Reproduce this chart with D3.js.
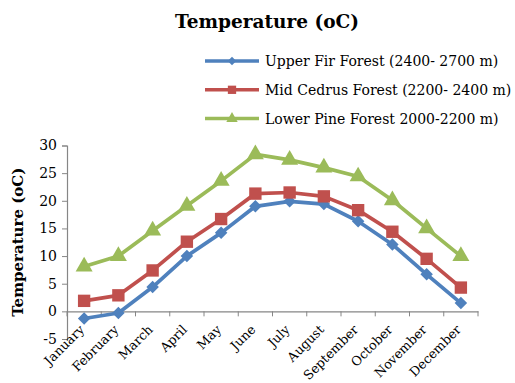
<!DOCTYPE html>
<html>
<head>
<meta charset="utf-8">
<script src="https://cdn.jsdelivr.net/npm/d3@7"></script>
<style>
  html, body { margin: 0; padding: 0; background: #fff; }
  svg { display: block; }
  text { font-family: "DejaVu Serif", "Liberation Serif", serif; }
</style>
</head>
<body>
<svg id="chart" width="515" height="383"></svg>
<script>
// Monthly mean temperatures for three forest belts
const months = ["January", "February", "March", "April", "May", "June",
                "July", "August", "September", "October", "November", "December"];
const upperFir  = [-1.3, -0.3, 4.4, 10.0, 14.2, 19.0, 19.9, 19.4, 16.3, 12.1, 6.7, 1.5];
const midCedrus = [1.9, 2.9, 7.4, 12.6, 16.7, 21.3, 21.5, 20.8, 18.3, 14.4, 9.5, 4.3];
const lowerPine = [8.1, 10.0, 14.6, 19.1, 23.6, 28.4, 27.4, 26.0, 24.4, 20.1, 15.0, 10.0];
const yTicks = [-5, 0, 5, 10, 15, 20, 25, 30];
const seriesNames = ["Upper Fir Forest (2400- 2700 m)",
                     "Mid Cedrus Forest (2200- 2400 m)",
                     "Lower Pine Forest 2000-2200 m)"];

const series = [
  { name: seriesNames[0], values: upperFir,  color: "#4F81BD", symbol: d3.symbolDiamond2, size: 100 },
  { name: seriesNames[1], values: midCedrus, color: "#C0504D", symbol: d3.symbolSquare2,  size: 195 },
  { name: seriesNames[2], values: lowerPine, color: "#9BBB59", symbol: d3.symbolTriangle, size: 125 }
];

const svg = d3.select("#chart");
const plot = { left: 67, right: 478, top: 145.5, bottom: 339 };

const x = d3.scaleBand().domain(months).range([plot.left, plot.right]);
const y = d3.scaleLinear().domain([-5, 30]).range([plot.bottom, plot.top]);

// Title
svg.append("text")
  .attr("x", 267).attr("y", 28)
  .attr("text-anchor", "middle")
  .style("font-size", "18.5px").style("font-weight", "bold")
  .text("Temperature (oC)");

// Y axis (plain hyphen for negative numbers)
const yAxis = svg.append("g")
  .attr("transform", `translate(${plot.left},0)`)
  .call(d3.axisLeft(y).tickValues(yTicks).tickFormat(d => String(d)).tickSize(5).tickPadding(5));
yAxis.select(".domain").attr("stroke", "#868686").attr("stroke-width", 1.2);
yAxis.selectAll(".tick line").attr("stroke", "#868686");
yAxis.selectAll(".tick text")
  .style("font-size", "14px").style("font-family", "'DejaVu Serif', serif").attr("fill", "#000");

// X axis along zero line
const xAxis = svg.append("g")
  .attr("transform", `translate(0,${y(0)})`)
  .call(d3.axisBottom(x).tickSize(0).tickFormat(""));
xAxis.select(".domain").attr("stroke", "#868686").attr("stroke-width", 1.2);
xAxis.selectAll(".tick").remove();
// Tick marks at category boundaries
const bounds = months.map(m => x(m)).concat([plot.right]);
svg.append("g").selectAll("line")
  .data(bounds).join("line")
  .attr("x1", d => d).attr("x2", d => d)
  .attr("y1", y(0)).attr("y2", y(0) + 5)
  .attr("stroke", "#868686");

// Category labels, rotated
svg.append("g").selectAll("text")
  .data(months).join("text")
  .attr("transform", d => `translate(${x(d) + x.bandwidth() / 2 + 1},${y(0) + 19}) rotate(-45)`)
  .attr("text-anchor", "end")
  .style("font-size", "12.8px")
  .text(d => d);

// Y axis title
svg.append("text")
  .attr("transform", `translate(23,${(plot.top + plot.bottom) / 2}) rotate(-90)`)
  .attr("text-anchor", "middle")
  .style("font-size", "15px").style("font-weight", "bold")
  .text("Temperature (oC)");

// Lines and markers
const line = d3.line()
  .x((d, i) => x(months[i]) + x.bandwidth() / 2)
  .y(d => y(d));

series.forEach(s => {
  svg.append("path")
    .datum(s.values)
    .attr("fill", "none")
    .attr("stroke", s.color)
    .attr("stroke-width", 3.7)
    .attr("stroke-linejoin", "round")
    .attr("d", line);
  svg.append("g").selectAll("path")
    .data(s.values).join("path")
    .attr("transform", (d, i) => `translate(${x(months[i]) + x.bandwidth() / 2},${y(d)})`)
    .attr("d", d3.symbol().type(s.symbol).size(s.size))
    .attr("fill", s.color);
});

// Legend
const legend = svg.append("g");
series.forEach((s, i) => {
  const ly = 61 + i * 28.8;
  legend.append("line")
    .attr("x1", 205).attr("x2", 259).attr("y1", ly).attr("y2", ly)
    .attr("stroke", s.color).attr("stroke-width", 3.5);
  legend.append("path")
    .attr("transform", `translate(232,${ly})`)
    .attr("d", d3.symbol().type(s.symbol).size(s.size * 0.45))
    .attr("fill", s.color);
  legend.append("text")
    .attr("x", 265).attr("y", ly + 5)
    .style("font-size", "14px")
    .text(s.name);
});
</script>
</body>
</html>
